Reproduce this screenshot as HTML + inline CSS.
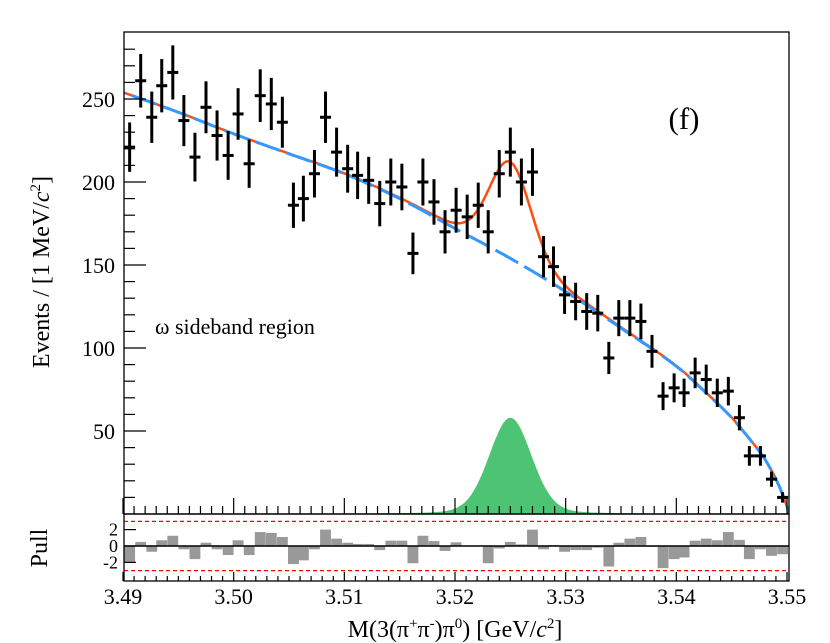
<!DOCTYPE html>
<html><head><meta charset="utf-8">
<style>
body{margin:0;background:#fff;}
svg{display:block;font-family:"Liberation Serif",serif;}
</style></head>
<body>
<svg id="chart" width="830" height="643" viewBox="0 0 830 643">
<g id="mainPlot"></g>
<g id="pullPlot"></g>
<text x="684" y="129" font-size="31" text-anchor="middle">(f)</text>
<text x="155" y="334" font-size="22">ω sideband region</text>
<text transform="translate(49,272) rotate(-90)" font-size="24" text-anchor="middle">Events / [1 MeV/<tspan font-style="italic">c</tspan><tspan font-size="15" dy="-9">2</tspan><tspan dy="9">]</tspan></text>
<text transform="translate(47,548) rotate(-90)" font-size="24" text-anchor="middle">Pull</text>
<text x="455" y="637" font-size="24" text-anchor="middle">M(3(π<tspan font-size="15" dy="-9">+</tspan><tspan dy="9">π</tspan><tspan font-size="15" dy="-9">-</tspan><tspan dy="9">)π</tspan><tspan font-size="15" dy="-9">0</tspan><tspan dy="9">) [GeV/</tspan><tspan font-style="italic">c</tspan><tspan font-size="15" dy="-9">2</tspan><tspan dy="9">]</tspan></text>
</svg>
<script>
const masses=[3.4906,3.4916,3.4926,3.4935,3.4945,3.4955,3.4965,3.4975,3.4985,3.4995,3.5004,3.5014,3.5024,3.5034,3.5044,3.5054,3.5063,3.5073,3.5083,3.5093,3.5103,3.5112,3.5122,3.5132,3.5142,3.5152,3.5162,3.5171,3.5181,3.5191,3.5201,3.5211,3.5221,3.5230,3.5240,3.5250,3.5260,3.5270,3.5280,3.5289,3.5299,3.5309,3.5319,3.5329,3.5339,3.5348,3.5358,3.5368,3.5378,3.5388,3.5398,3.5407,3.5417,3.5427,3.5437,3.5447,3.5457,3.5466,3.5476,3.5486,3.5496];
const counts=[221,261,239,258,266,237,215,245,228,216,241,211,252,247,236,186,190,205,239,218,208,204,201,187,200,197,157,200,188,170,183,179,186,170,205,218,200,206,155,149,132,128,122,121,94,118,118,116,98,71,76,73,85,81,73,74,58,35,35,21,10];
const pulls=[-2.0,0.5,-0.7,0.7,1.25,-0.4,-1.6,0.4,-0.4,-1.1,0.7,-1.1,1.7,1.6,1.1,-2.2,-1.75,-0.4,2.0,0.9,0.4,0.25,0.25,-0.5,0.65,0.65,-2.1,1.25,0.6,-0.6,0.45,0.05,0.0,-2.1,-0.3,0.5,0.2,2.0,-0.4,0.1,-0.7,-0.5,-0.5,-0.2,-2.5,0.4,0.9,1.1,-0.1,-2.7,-1.6,-1.4,0.65,0.9,0.7,1.7,0.75,-1.6,-0.4,-1.2,-1.0];
const bgMass=[3.490,3.495,3.500,3.505,3.510,3.515,3.520,3.525,3.530,3.535,3.540,3.543,3.545,3.547,3.548,3.549,3.5497,3.5502];
const bgVals=[254,242,229,217,205,190,172,154,134,112,89,71,58,42,33,21,10,0];
const sigPeak=58, sigMean=3.5250, sigSigma=0.0019, sigGamma=0.0025;
const yTicks=[50,100,150,200,250];
const xTicks=[3.49,3.50,3.51,3.52,3.53,3.54,3.55];
const pullTicks=[2,0,-2];

const NS="http://www.w3.org/2000/svg";
const L=124,R=789,T=32,B=514,PT=514,PB=581;
const X=m=>123+(m-3.49)/0.06*664;
const Y=v=>B-v*1.66;
const P=p=>546-p*8.2;
function mk(parent,tag,attrs){const e=document.createElementNS(NS,tag);for(const k in attrs)e.setAttribute(k,attrs[k]);parent.appendChild(e);return e;}
function bg(m){if(m<=bgMass[0])return bgVals[0]+(bgMass[0]-m)*2400;if(m>=bgMass[bgMass.length-1])return 0;
 for(let i=0;i<bgMass.length-1;i++){if(m<=bgMass[i+1]){const t=(m-bgMass[i])/(bgMass[i+1]-bgMass[i]);
  const m0=i>0?(bgVals[i+1]-bgVals[i-1])/(bgMass[i+1]-bgMass[i-1]):(bgVals[1]-bgVals[0])/(bgMass[1]-bgMass[0]);
  const m1=i<bgMass.length-2?(bgVals[i+2]-bgVals[i])/(bgMass[i+2]-bgMass[i]):(bgVals[i+1]-bgVals[i])/(bgMass[i+1]-bgMass[i]);
  const h=bgMass[i+1]-bgMass[i];const t2=t*t,t3=t2*t;
  return Math.max(0,(2*t3-3*t2+1)*bgVals[i]+(t3-2*t2+t)*h*m0+(-2*t3+3*t2)*bgVals[i+1]+(t3-t2)*h*m1);}}return 0;}
function sig(m){const d=m-sigMean;return sigPeak*(0.85*Math.exp(-d*d/(2*sigSigma*sigSigma))+0.15/(1+(d/sigGamma)*(d/sigGamma)));}

const main=document.getElementById('mainPlot');
const pull=document.getElementById('pullPlot');
const clip=mk(main,'clipPath',{id:'cp'});mk(clip,'rect',{x:L,y:T,width:R-L,height:B-T});
let d='M'+X(3.49)+','+Y(0);
for(let m=3.49;m<=3.5508;m+=0.0002)d+=' L'+X(m).toFixed(1)+','+Y(sig(m)).toFixed(1);
d+=' L'+X(3.5508)+','+Y(0)+'Z';
let e=mk(main,'path',{d:d,fill:'#4dc474','clip-path':'url(#cp)'});


let dt='',db='';
for(let m=3.488;m<=3.5508;m+=0.0001){const c=(dt?' L':'M');dt+=c+X(m).toFixed(1)+','+Y(bg(m)+sig(m)).toFixed(1);db+=c+X(m).toFixed(1)+','+Y(bg(m)).toFixed(1);}
e=mk(main,'path',{d:dt,fill:'none',stroke:'#ff4d10','stroke-width':2.5,'clip-path':'url(#cp)'});


e=mk(main,'path',{d:db,fill:'none',stroke:'#3399ff','stroke-width':3,'stroke-dasharray':'26 7','clip-path':'url(#cp)'});


masses.forEach((m,i)=>{const n=counts[i],err=Math.sqrt(n),x=X(m);
 const g=mk(main,'g',{stroke:'#000','stroke-width':3});
 
 
 mk(g,'line',{x1:x,x2:x,y1:Y(n+err),y2:Y(Math.max(n-err,0))});
 mk(g,'line',{x1:x-5.5,x2:x+5.5,y1:Y(n),y2:Y(n)});
});
e=mk(main,'rect',{x:L,y:T,width:R-L,height:B-T,fill:'none',stroke:'#000','stroke-width':1.3});


for(let v=10;v<=280;v+=10){const big=v%50===0;mk(main,'line',{x1:L,x2:L+(big?22:11),y1:Y(v),y2:Y(v),stroke:'#000','stroke-width':1.2});}
yTicks.forEach(v=>{const t=mk(main,'text',{x:115,y:Y(v)+8,'font-size':22,'text-anchor':'end'});t.textContent=v;
 
 });
for(let k=0;k<=61;k++){const m=3.49+k*0.001;const big=k%10===0;const x=X(m);if(x>R)break;
 mk(main,'line',{x1:x,x2:x,y1:B,y2:B-(big?16:8),stroke:'#000','stroke-width':1.2});
 mk(pull,'line',{x1:x,x2:x,y1:PB,y2:PB-(big?9:5),stroke:'#000','stroke-width':1.2});}
xTicks.forEach(v=>{const t=mk(pull,'text',{x:X(v),y:604,'font-size':22,'text-anchor':'middle'});t.textContent=v.toFixed(2);
 
 });
masses.forEach((m,i)=>{const x=X(m),w=X(m+0.00098)-x;const p=pulls[i];
 const r=mk(pull,'rect',{x:x-w/2,y:Math.min(P(p),P(0)),width:w,height:Math.abs(P(p)-P(0)),fill:'#999'});
 
 });
mk(pull,'line',{x1:L,x2:R,y1:P(3),y2:P(3),stroke:'#f00','stroke-width':1.2,'stroke-dasharray':'4 3'});
mk(pull,'line',{x1:L,x2:R,y1:P(-3),y2:P(-3),stroke:'#f00','stroke-width':1.2,'stroke-dasharray':'4 3'});
mk(pull,'line',{x1:L,x2:R,y1:P(0),y2:P(0),stroke:'#000','stroke-width':1.5});
e=mk(pull,'rect',{x:L,y:PT,width:R-L,height:PB-PT,fill:'none',stroke:'#000','stroke-width':1.3});


pullTicks.forEach(v=>{mk(pull,'line',{x1:L,x2:L+12,y1:P(v),y2:P(v),stroke:'#000','stroke-width':1.2});
 const t=mk(pull,'text',{x:118,y:P(v)+6,'font-size':18,'text-anchor':'end'});t.textContent=v;
 
 });
</script>
</body></html>
